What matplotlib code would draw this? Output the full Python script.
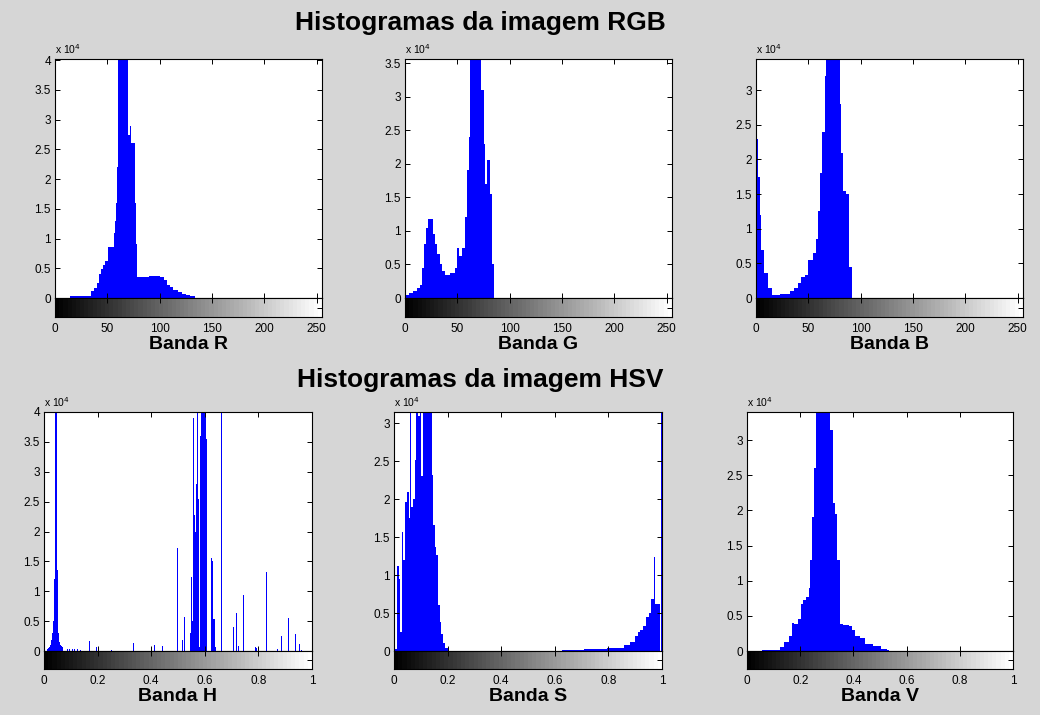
import numpy as np
import matplotlib.pyplot as plt

plt.rcParams['font.family'] = ['Liberation Sans', 'DejaVu Sans']

# histogram counts, in units of 10^4 pixels
# RGB bands: bin edges in gray levels (0..255)
r_edges = [14, 34, 37, 40, 42, 44, 46, 48, 51, 56, 57, 58, 59, 60, 70, 72, 73, 74,
           76, 77, 78, 81, 90, 100, 104, 107, 110, 113, 117, 121, 125, 129, 134]
r_counts = [0.03, 0.12, 0.16, 0.25, 0.4, 0.48, 0.55, 0.62, 0.85, 1.1, 1.3, 1.6, 2.2,
            4.5, 2.75, 2.9, 2.6, 2.6, 1.6, 0.9, 0.36, 0.36, 0.37, 0.35, 0.3, 0.22,
            0.18, 0.13, 0.1, 0.07, 0.05, 0.03]

g_edges = [0, 4, 8, 11, 14, 16, 18, 20, 22, 27, 29, 31, 33, 35, 38, 43, 48, 50, 52,
           54, 57, 59, 61, 62, 73, 75, 76, 78, 81, 83, 85]
g_counts = [0.05, 0.08, 0.11, 0.15, 0.2, 0.45, 0.8, 1.05, 1.17, 0.95, 0.8, 0.65, 0.5,
            0.4, 0.35, 0.37, 0.45, 0.75, 0.62, 0.75, 1.2, 1.9, 2.4, 4.2, 3.1, 2.3,
            1.7, 2.05, 1.55, 0.5]

b_edges = [0, 1, 2, 4, 5, 8, 11, 15, 23, 32, 36, 40, 43, 47, 50, 54, 57, 59, 61, 63,
           66, 67, 80, 81, 83, 86, 89, 92]
b_counts = [3.6, 2.3, 1.75, 1.2, 0.7, 0.36, 0.15, 0.05, 0.06, 0.1, 0.15, 0.22, 0.3,
            0.33, 0.55, 0.65, 0.85, 1.25, 1.8, 2.4, 3.2, 3.8, 2.8, 2.1, 1.55, 1.5, 0.45]

# HSV bands: bin index 0..255 (value = index / 255)
h_bins = [0, 3, 4, 5, 6, 7, 8, 9, 10, 11, 12, 13, 14, 15, 16, 17, 18, 20, 22, 24, 27,
          29, 32, 35, 38, 43, 50, 64, 85, 105, 113, 117, 127, 132, 134, 136, 137, 138,
          139, 140, 141, 142, 143, 144, 145, 146, 147, 148, 149, 150, 151, 152, 153,
          154, 155, 156, 157, 158, 159, 160, 161, 162, 163, 169, 176, 177, 180, 183,
          185, 190, 197, 201, 202, 212, 222, 226, 233, 239, 243, 245]
h_counts = [1.5, 0.04, 0.05, 0.06, 0.1, 0.18, 0.3, 0.5, 1.2, 4.5, 4.5, 1.35, 0.3, 0.15,
            0.1, 0.08, 0.06, 0.26, 0.04, 0.03, 0.04, 0.03, 0.03, 0.02, 0.02, 0.17, 0.06,
            0.02, 0.13, 0.1, 0.08, 0.05, 1.73, 0.18, 0.57, 0.85, 0.1, 1.69, 0.3, 1.24,
            0.5, 3.9, 2.28, 2.0, 2.8, 4.5, 2.54, 0.07, 3.6, 4.5, 4.5, 4.5, 4.5, 4.5,
            3.55, 2.5, 3.9, 1.55, 1.55, 1.5, 0.54, 0.54, 0.07, 4.5, 0.07, 0.15, 0.4,
            0.64, 0.08, 0.93, 0.35, 0.06, 0.05, 1.32, 0.03, 0.25, 0.56, 0.28, 0.11, 0.02]

s_edges = [0, 1, 3, 5, 6, 8, 9, 10, 12, 14, 15, 16.5, 18, 20, 21, 23, 24.5, 26, 28, 36,
           37, 39, 40, 42, 44, 45, 47, 49, 51, 160, 181, 203, 219, 225, 229, 232, 234,
           237, 240, 243, 245, 247, 248, 253, 254.5, 255]
s_counts = [0.36, 0.02, 1.12, 0.95, 0.25, 1.57, 1.2, 1.97, 2.1, 1.75, 3.5, 1.9, 2.0,
            2.52, 3.5, 3.1, 3.5, 2.3, 3.5, 2.32, 1.66, 1.37, 1.26, 0.6, 0.38, 0.23, 0.1,
            0.04, 0.005, 0.015, 0.025, 0.045, 0.075, 0.12, 0.2, 0.25, 0.28, 0.33, 0.45,
            0.5, 0.68, 1.24, 0.62, 0.0, 3.5]

v_edges = [14, 32, 35, 40, 43, 45, 49, 52, 54, 57, 59, 60, 62, 64, 66, 80, 82, 84, 86,
           89, 92, 98, 101, 104, 108, 113, 121, 128, 134, 136]
v_counts = [0.02, 0.06, 0.13, 0.22, 0.4, 0.39, 0.46, 0.67, 0.72, 0.77, 0.9, 1.3, 1.9,
            2.6, 3.8, 3.15, 2.1, 1.95, 1.3, 0.39, 0.37, 0.35, 0.3, 0.22, 0.18, 0.1,
            0.07, 0.03, 0.01]

BLUE = '#0000ff'
BG = '#d6d6d6'

fig = plt.figure(figsize=(10.4, 7.15), dpi=100, facecolor=BG)


def make_axes(left, bottom, width, height, cb_h, xmax, xticks, ytop, yticks, label):
    ax = fig.add_axes([left, bottom, width, height])
    cb = fig.add_axes([left, bottom - cb_h, width, cb_h])
    ax.set_facecolor('white')
    ax.set_xlim(0, xmax)
    ax.set_ylim(0, ytop)
    ax.set_xticks(xticks)
    ax.set_xticklabels([])
    ax.set_yticks(yticks)
    ax.set_yticklabels(['%g' % t for t in yticks])
    ax.tick_params(direction='in', length=3.5, width=0.7, top=True, right=True,
                   labelsize=8.5, colors='black', pad=3)
    ax.text(0, 1.012, r'x 10$^4$', transform=ax.transAxes, fontsize=7.5,
            ha='left', va='bottom')
    for sp in ax.spines.values():
        sp.set_linewidth(0.8)

    # gray-level colour bar under the histogram
    cb.imshow(np.linspace(0, 1, 64)[None, :], cmap='gray', aspect='auto',
              extent=[0, xmax, 0, 1], interpolation='nearest')
    cb.set_xlim(0, xmax)
    cb.set_ylim(0, 1)
    cb.set_xticks(xticks)
    cb.set_xticklabels(['%g' % t for t in xticks])
    cb.set_yticks([0.5])
    cb.set_yticklabels([])
    cb.tick_params(axis='x', direction='in', length=3.5, width=0.7, top=True,
                   bottom=False, labelsize=8.5, pad=4)
    cb.tick_params(axis='y', direction='in', length=3.5, width=0.7, left=False,
                   right=True)
    for sp in cb.spines.values():
        sp.set_linewidth(0.8)
    cb.set_xlabel(label, fontsize=14, fontweight='bold', labelpad=1)
    return ax


W = 267 / 1040
top_b, top_h, top_cb = 1 - 298 / 715, 239 / 715, 19 / 715
bot_b, bot_h, bot_cb = 1 - 651 / 715, 239 / 715, 18 / 715

rgb_ticks = [0, 50, 100, 150, 200, 250]
hsv_ticks = [0, 0.2, 0.4, 0.6, 0.8, 1]

ax = make_axes(55 / 1040, top_b, W, top_h, top_cb, 255, rgb_ticks, 4.02,
               np.arange(0, 4.01, 0.5), 'Banda R')
ax.stairs(r_counts, r_edges, fill=True, color=BLUE)

ax = make_axes(405 / 1040, top_b, W, top_h, top_cb, 255, rgb_ticks, 3.56,
               np.arange(0, 3.51, 0.5), 'Banda G')
ax.stairs(g_counts, g_edges, fill=True, color=BLUE)

ax = make_axes(756 / 1040, top_b, W, top_h, top_cb, 255, rgb_ticks, 3.45,
               np.arange(0, 3.01, 0.5), 'Banda B')
ax.stairs(b_counts, b_edges, fill=True, color=BLUE)

ax = make_axes(44 / 1040, bot_b, 268 / 1040, bot_h, bot_cb, 1, hsv_ticks, 4.0,
               np.arange(0, 4.01, 0.5), 'Banda H')
ax.bar(np.array(h_bins) / 255, h_counts, width=0.8 / 255, color=BLUE, linewidth=0)

ax = make_axes(394 / 1040, bot_b, 268 / 1040, bot_h, bot_cb, 1, hsv_ticks, 3.15,
               np.arange(0, 3.01, 0.5), 'Banda S')
ax.stairs(s_counts, np.array(s_edges) / 255, fill=True, color=BLUE)

ax = make_axes(747 / 1040, bot_b, 266 / 1040, bot_h, bot_cb, 1, hsv_ticks, 3.40,
               np.arange(0, 3.01, 0.5), 'Banda V')
ax.stairs(v_counts, np.array(v_edges) / 255, fill=True, color=BLUE)

fig.text(480 / 1040, 1 - 23 / 715, 'Histogramas da imagem RGB', fontsize=19,
         fontweight='bold', ha='center', va='center')
fig.text(480 / 1040, 1 - 380 / 715, 'Histogramas da imagem HSV', fontsize=19,
         fontweight='bold', ha='center', va='center')

fig.savefig('out.png', dpi=100, facecolor=BG)
